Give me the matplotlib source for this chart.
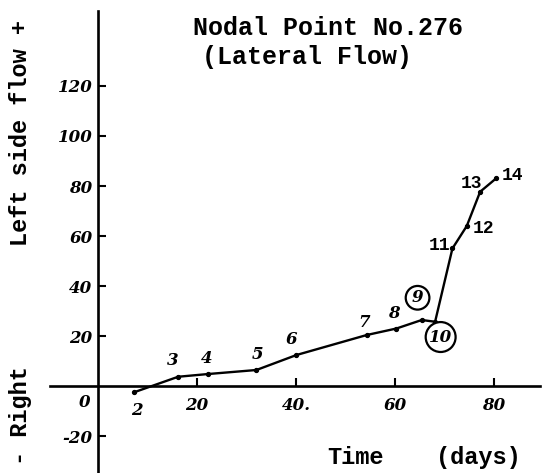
import matplotlib
matplotlib.use("Agg")
import matplotlib.pyplot as plt

# Observation points: time (days) and lateral flow (left side positive)
point_ids = ["2", "3", "4", "5", "6", "7", "8", "9", "10", "11", "12", "13", "14"]
time_days = [7.3, 16.2, 22.3, 32.0, 40.1, 54.3, 60.3, 65.4, 68.1, 71.6, 74.5, 77.2, 80.4]
flow = [-2.5, 3.7, 4.8, 6.4, 12.4, 20.4, 23.0, 26.4, 25.7, 55.0, 64.0, 77.7, 83.0]

x_ticks = [20, 40, 60, 80]
x_tick_labels = ["20", "40.", "60", "80"]
y_ticks = [-20, 20, 40, 60, 80, 100, 120]
y_tick_labels = ["-20", "20", "40", "60", "80", "100", "120"]

# label offsets (points) for each point number
label_offsets = {
    "2": (2, -13), "3": (-4, 12), "4": (-1, 11), "5": (1, 11), "6": (-4, 11),
    "7": (-2, 9), "8": (-2, 11), "9": (-3, 16), "10": (4, -11), "11": (-9, 2),
    "12": (12, -2), "13": (-6, 6), "14": (12, 2),
}
circled = {"9", "10"}

W, H = 543, 473
fig = plt.figure(figsize=(W / 100, H / 100), dpi=100)
ax = fig.add_axes([0, 0, 1, 1])
ax.set_xlim(-98 / 4.95, (W - 98) / 4.95)
ax.set_ylim(-(H - 386) / 2.5, 386 / 2.5)

for s in ["top", "right"]:
    ax.spines[s].set_visible(False)
ax.spines["left"].set_position(("data", 0))
ax.spines["bottom"].set_position(("data", 0))
ax.spines["left"].set_bounds(-35, 150)
ax.spines["bottom"].set_bounds(-9.7, 89.3)
ax.spines["left"].set_linewidth(1.9)
ax.spines["bottom"].set_linewidth(1.9)

hand = dict(family="DejaVu Serif", style="italic", weight="bold", size=12)
ax.set_xticks(x_ticks)
ax.set_xticklabels(x_tick_labels, **hand)
ax.set_yticks(y_ticks)
ax.set_yticklabels(y_tick_labels, **hand)
ax.tick_params(axis="x", direction="in", length=6, width=1.5, pad=8)
ax.tick_params(axis="y", direction="in", length=6, width=1.5, pad=4)
ax.text(-1.5, -3, "0", ha="right", va="top", **hand)

ax.plot(time_days, flow, color="black", lw=1.7, marker="o", ms=2.8,
        solid_capstyle="round")

for pid, x, y in zip(point_ids, time_days, flow):
    dx, dy = label_offsets[pid]
    kw = dict(family="DejaVu Serif", style="italic", weight="bold", size=12)
    if int(pid) >= 11:
        kw = dict(family="Liberation Mono", weight="bold", size=13)
    if pid in circled:
        kw["bbox"] = dict(boxstyle="circle,pad=0.2", fc="white", ec="black", lw=1.6)
    ax.annotate(pid, (x, y), xytext=(dx, dy), textcoords="offset points",
                ha="center", va="center", **kw)

mono = dict(family="Liberation Mono", weight="bold", color="black")
fig.text(328 / W, 1 - 28 / H, "Nodal Point No.276", ha="center", va="center", size=18, **mono)
fig.text(307 / W, 1 - 57 / H, "(Lateral Flow)", ha="center", va="center", size=18, **mono)
fig.text(356 / W, 1 - 457 / H, "Time", ha="center", va="center", size=17, **mono)
fig.text(478 / W, 1 - 457 / H, "(days)", ha="center", va="center", size=17, **mono)
fig.text(21 / W, 1 - 133 / H, "Left side flow +", ha="center", va="center",
         rotation=90, size=17, **mono)
fig.text(21 / W, 1 - 416 / H, "- Right", ha="center", va="center",
         rotation=90, size=17, **mono)

fig.savefig("out.png", dpi=100)
